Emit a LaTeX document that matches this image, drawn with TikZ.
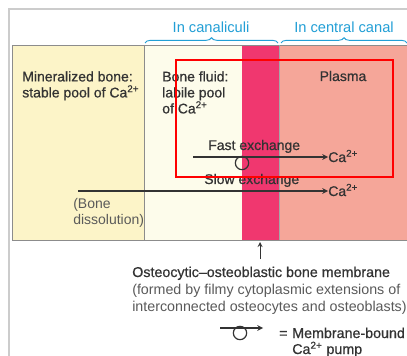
\documentclass[tikz,border=0pt]{standalone}
\usepackage{fontspec}
\setmainfont{Liberation Sans}
\newfontfamily\mediumfont[FakeBold=0.7, Ligatures=TeX]{Liberation Sans}
\usetikzlibrary{positioning,arrows,calc,decorations.pathreplacing}

\definecolor{boneyellow}{HTML}{FCF4C8}
\definecolor{fluidcream}{HTML}{FDFCEB}
\definecolor{membranepink}{HTML}{F0376F}
\definecolor{plasmasalmon}{HTML}{F5A699}
\definecolor{canalblue}{HTML}{229FD6}
\definecolor{inkgray}{HTML}{333333}
\definecolor{notegray}{HTML}{5A5A5A}

\tikzset{
  toptext/.style={inner sep=0pt, text=inkgray, font=\mediumfont\fontsize{10.5}{12}\selectfont, align=left},
  lowtext/.style={inner sep=0pt, text=inkgray, font=\mediumfont\fontsize{10.7}{12.8}\selectfont, align=left},
  notetext/.style={inner sep=0pt, text=notegray, font=\fontsize{10.7}{12.8}\selectfont, align=left},
  canaltext/.style={inner sep=0pt, text=canalblue, font=\fontsize{11}{13}\selectfont},
  flowarrow/.style={-stealth, line width=0.9pt, draw=inkgray},
  canalbrace/.style={draw=canalblue, line width=0.7pt, decorate, decoration={brace, amplitude=4pt}}
}

\begin{document}
\begin{tikzpicture}[x=0.75pt, y=-0.75pt]
    \useasboundingbox (0,0) rectangle (407,356);
    \fill[white] (0,0) rectangle (407,356);

    % outer frame
    \draw[line width=1.5pt, draw=black!20] (9,356) -- (9,9) -- (407,9);

    % compartments
    \fill[boneyellow] (12,45) rectangle (144,240);
    \fill[fluidcream] (144,45) rectangle (242,240);
    \fill[membranepink] (242,45) rectangle (279,240);
    \fill[plasmasalmon] (279,45) rectangle (407,240);
    \draw[line width=0.5pt, draw=black!45] (407,45) -- (12,45) -- (12,240) -- (407,240);
    \draw[line width=0.4pt, draw=black!45] (144,45) -- (144,240);
    \draw[line width=0.4pt, draw=black!35] (279,45) -- (279,240);

    % braces over the canal regions
    \draw[canalbrace] (145,43) -- (278,43);
    \draw[canalbrace] (281,43) -- (407,43);
    \node[canaltext, anchor=base] (canaliculi) at (211,33) {In canaliculi};
    \node[canaltext, anchor=base] (central) at (344,33) {In central canal};

    % pool labels
    \node[toptext, anchor=north west] (mineral) at (22,71)
        {Mineralized bone:\\stable pool of Ca\textsuperscript{2+}};
    \node[toptext, anchor=north west] (fluid) at (162,71)
        {Bone fluid:\\labile pool\\of Ca\textsuperscript{2+}};
    \node[toptext, anchor=base] (plasma) at (343,81) {Plasma};

    % exchanges
    \node[toptext, anchor=base west] (fastlbl) at (208,150) {Fast exchange};
    \node[toptext, anchor=base west] (fastca) at (328,162) {Ca\textsuperscript{2+}};
    \coordinate (faststart) at (193,157);
    \draw[flowarrow] (faststart) -- (fastca.west |- faststart);
    \node[draw=inkgray, line width=0.9pt, circle, minimum size=10pt, inner sep=0pt] (pump) at (242,163) {};

    \node[toptext, anchor=base west] (slowlbl) at (204,184) {Slow exchange};
    \node[toptext, anchor=base west] (slowca) at (328,196) {Ca\textsuperscript{2+}};
    \coordinate (slowstart) at (78,191);
    \draw[flowarrow] (slowstart) -- (slowca.west |- slowstart);
    \node[notetext, font=\fontsize{10.5}{12}\selectfont, anchor=north west] (dissol) at (73,198)
        {(Bone\\dissolution)};

    % membrane label
    \node[lowtext, anchor=base west] (memlbl) at (132,277)
        {Osteocytic–osteoblastic bone membrane};
    \node[notetext, anchor=north west] (memnote) at (132,284)
        {(formed by filmy cytoplasmic extensions of\\interconnected osteocytes and osteoblasts)};
    \coordinate (memfoot) at (260,259);
    \coordinate (memtip) at (260,242);
    \draw[flowarrow, line width=0.7pt] (memfoot) -- (memtip);

    % legend
    \coordinate (keystart) at (220,328);
    \coordinate (keyend) at (263,328);
    \draw[flowarrow] (keystart) -- (keyend);
    \node[draw=inkgray, line width=0.9pt, circle, minimum size=10pt, inner sep=0pt] (keypump) at (240,333) {};
    \node[lowtext, anchor=base west] (keyeq) at (279,338) {=};
    \node[lowtext, anchor=base west] (keytext) at (292,338) {Membrane-bound};
    \node[lowtext, anchor=base west] (keyca) at (292,354) {Ca\textsuperscript{2+} pump};

    % highlight frame
    \draw[red, line width=1.5pt] (176,60) rectangle (393,177);
\end{tikzpicture}
\end{document}
